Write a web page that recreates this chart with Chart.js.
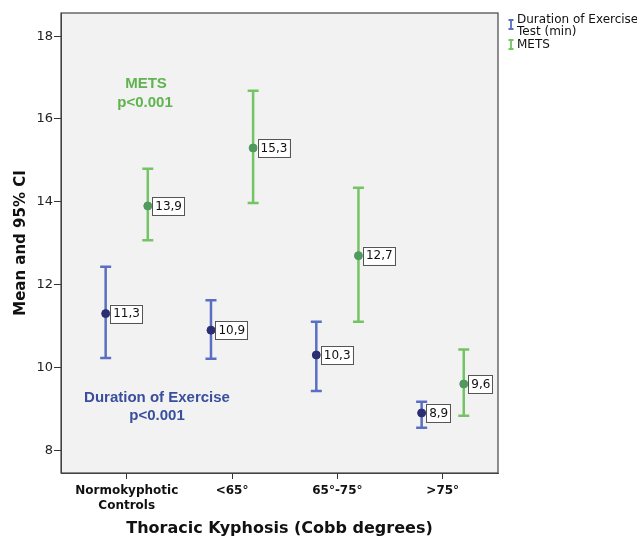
<!DOCTYPE html>
<html><head><meta charset="utf-8">
<script src="https://cdn.jsdelivr.net/npm/chart.js@4.4.0/dist/chart.umd.min.js"></script>
<style>html,body{margin:0;padding:0;background:#fff;}#wrap{width:637px;height:538px;}</style>
</head><body><div id="wrap"><canvas id="c" width="637" height="538"></canvas></div>
<script>
const categories = [["Normokyphotic","Controls"], "<65°", "65°-75°", ">75°"];
const durMean = [11.3, 10.9, 10.3, 8.9];
const durLow  = [10.23, 10.21, 9.43, 8.54];
const durHigh = [12.43, 11.62, 11.10, 9.17];
const metsMean = [13.9, 15.3, 12.7, 9.6];
const metsLow  = [13.07, 13.97, 11.10, 8.83];
const metsHigh = [14.80, 16.68, 14.34, 10.43];
const durLabels = ["11,3", "10,9", "10,3", "8,9"];
const metsLabels = ["13,9", "15,3", "12,7", "9,6"];
const yTicks = [8, 10, 12, 14, 16, 18];
const seriesNames = [["Duration of Exercise","Test (min)"], ["METS"]];

const OFF = 0.2;
const BLUE_BAR = '#5a6fc2', BLUE_PT = '#2b2f72';
const GREEN_BAR = '#74c464', GREEN_PT = '#4f9a5c';
const FONT = '"DejaVu Sans", sans-serif';

const durPts = durMean.map((v,i)=>({x:i-OFF, y:v}));
const metsPts = metsMean.map((v,i)=>({x:i+OFF, y:v}));

const errPlugin = {
  id:'err',
  beforeDraw(chart){
    const {ctx, chartArea:a} = chart;
    ctx.save();
    ctx.fillStyle='#f2f2f2';
    ctx.fillRect(a.left,a.top,a.right-a.left,a.bottom-a.top);
    ctx.restore();
  },
  beforeDatasetsDraw(chart){
    const {ctx, scales:{x,y}} = chart;
    ctx.save();
    const draw=(lo,hi,off,col)=>{
      ctx.strokeStyle=col; ctx.lineWidth=2.5; ctx.lineCap='butt';
      lo.forEach((l,i)=>{
        const px=x.getPixelForValue(i+off);
        const p1=y.getPixelForValue(l), p2=y.getPixelForValue(hi[i]);
        ctx.beginPath();
        ctx.moveTo(px,p1);ctx.lineTo(px,p2);
        ctx.moveTo(px-5.5,p1);ctx.lineTo(px+5.5,p1);
        ctx.moveTo(px-5.5,p2);ctx.lineTo(px+5.5,p2);
        ctx.stroke();
      });
    };
    draw(durLow,durHigh,-OFF,BLUE_BAR);
    draw(metsLow,metsHigh,OFF,GREEN_BAR);
    ctx.restore();
  },
  afterDatasetsDraw(chart){
    const {ctx, scales:{x,y}, chartArea:a} = chart;
    ctx.save();
    ctx.font='12px '+FONT;
    ctx.textBaseline='middle';
    const lab=(vals,labels,off)=>{
      vals.forEach((v,i)=>{
        const px=x.getPixelForValue(i+off)+4.5, py=y.getPixelForValue(v);
        const w=ctx.measureText(labels[i]).width+5;
        ctx.fillStyle='#fff';
        ctx.fillRect(px,py-9,w,18);
        ctx.strokeStyle='#555';ctx.lineWidth=1;
        ctx.strokeRect(Math.round(px)+0.5,Math.round(py-9)+0.5,Math.round(w),18);
        ctx.fillStyle='#111';ctx.textAlign='left';
        ctx.fillText(labels[i],px+3,py+0.5);
      });
    };
    lab(durMean,durLabels,-OFF);
    lab(metsMean,metsLabels,OFF);
    // frame
    ctx.strokeStyle='#444';ctx.lineWidth=1.2;
    ctx.strokeRect(a.left,a.top,a.right-a.left,a.bottom-a.top);
    // annotations
    ctx.textAlign='center';ctx.font='bold 15px "Liberation Sans", Arial, sans-serif';
    ctx.fillStyle='#5fb44f';
    ctx.fillText('METS',146,84);ctx.fillText('p<0.001',145,102.5);
    ctx.fillStyle='#3a4f9c';
    ctx.fillText('Duration of Exercise',157,398);ctx.fillText('p<0.001',157,415.5);
    // legend
    const icon=(xx,y1,y2,col)=>{
      ctx.strokeStyle=col;ctx.lineWidth=1.8;ctx.beginPath();
      ctx.moveTo(xx,y1);ctx.lineTo(xx,y2);
      ctx.moveTo(xx-2.5,y1);ctx.lineTo(xx+2.5,y1);
      ctx.moveTo(xx-2.5,y2);ctx.lineTo(xx+2.5,y2);ctx.stroke();
    };
    icon(511,20,29,BLUE_BAR);
    icon(511,40,49,GREEN_BAR);
    ctx.fillStyle='#111';ctx.textAlign='left';ctx.font='12px '+FONT;
    ctx.fillText(seriesNames[0][0],517,20);
    ctx.fillText(seriesNames[0][1],517,32);
    ctx.fillText(seriesNames[1][0],517,45);
    ctx.restore();
  }
};

new Chart(document.getElementById('c'),{
  type:'scatter',
  data:{datasets:[
    {label:'Duration of Exercise Test (min)',data:durPts,backgroundColor:BLUE_PT,borderColor:BLUE_PT,pointRadius:4,pointHoverRadius:4},
    {label:'METS',data:metsPts,backgroundColor:GREEN_PT,borderColor:GREEN_PT,pointRadius:4,pointHoverRadius:4}
  ]},
  options:{
    responsive:false,animation:false,devicePixelRatio:1,
    layout:{padding:{left:0,right:139,top:13,bottom:0}},
    plugins:{legend:{display:false},tooltip:{enabled:false}},
    scales:{
      x:{type:'linear',min:-0.624,max:3.525,
        afterBuildTicks(s){s.ticks=[0,1,2,3].map(v=>({value:v}));},
        afterFit(s){s.height=65;},
        ticks:{callback:(v)=>categories[v],color:'#111',font:{family:'"DejaVu Sans", sans-serif',size:12,weight:'bold',lineHeight:1.2},maxRotation:0,autoSkip:false,padding:5},
        grid:{display:true,drawOnChartArea:false,drawTicks:true,tickLength:6,color:'#333'},
        border:{display:true,color:'#444'},
        title:{display:true,text:'Thoracic Kyphosis (Cobb degrees)',color:'#111',font:{family:'"DejaVu Sans", sans-serif',size:16,weight:'bold'},padding:{top:4,bottom:0}}
      },
      y:{type:'linear',min:7.45,max:18.56,
        afterBuildTicks(s){s.ticks=yTicks.map(v=>({value:v}));},
        afterFit(s){s.width=61;},
        ticks:{color:'#222',font:{family:'"DejaVu Sans", sans-serif',size:13},padding:1},
        grid:{display:true,drawOnChartArea:false,drawTicks:true,tickLength:7,color:'#333'},
        border:{display:true,color:'#444'},
        title:{display:true,text:'Mean and 95% CI',color:'#111',font:{family:'"DejaVu Sans", sans-serif',size:15,weight:'bold'},padding:{top:12,bottom:4}}
      }
    }
  },
  plugins:[errPlugin]
});
</script></body></html>
